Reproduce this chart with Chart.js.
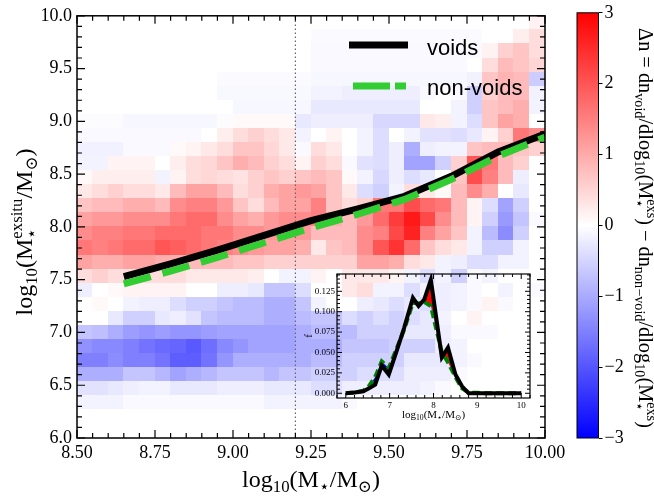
<!DOCTYPE html>
<html>
<head>
<meta charset="utf-8">
<script src="https://cdn.jsdelivr.net/npm/chart.js@4.4.1/dist/chart.umd.min.js"></script>
<style>
  html, body { margin: 0; padding: 0; background: #fff; }
  #wrap { position: relative; width: 654px; height: 498px; overflow: hidden; }
  canvas { position: absolute; }
</style>
</head>
<body>
<div id="wrap">
  <canvas id="main" width="654" height="498" style="left:0;top:0"></canvas>
  <canvas id="cbar" width="94" height="498" style="left:560px;top:0"></canvas>
  <canvas id="inset" width="250" height="160" style="left:290px;top:265px"></canvas>
</div>
<script>
/* void vs non-void ex-situ mass heatmap */

// main panel lines
const voidMass = [8.65, 8.8, 8.95, 9.1, 9.25, 9.4, 9.55, 9.7, 9.85, 10.0];
const voidExsitu = [7.53, 7.65, 7.78, 7.92, 8.06, 8.17, 8.29, 8.48, 8.71, 8.88];
const nonVoidMass = [8.65, 8.8, 8.95, 9.1, 9.25, 9.4, 9.55, 9.7, 9.85, 10.0];
const nonVoidExsitu = [7.46, 7.58, 7.71, 7.85, 7.99, 8.12, 8.26, 8.45, 8.67, 8.85];
const splitMass = 9.2;

// heatmap bins (30 x 30), rows listed from top (log Mexsitu = 10) to bottom (6)
const xBinCount = 30, xBinMin = 8.5, xBinMax = 10.0;
const yBinCount = 30, yBinMin = 6.0, yBinMax = 10.0;
const deltaGrid = [
  [0,0,0,0,0,0,0,0,0,0,0,0,0,0,0,0,0,0,0,0,0,0,0,0,0,0,0,0,0,0.15],
  [0,0,0,0,0,0,0,0,0,0,0,0,0,0,0,-0.05,-0.05,-0.05,-0.05,-0.05,-0.05,-0.05,-0.05,-0.05,-0.05,-0.05,0,0,0.2,0.4],
  [0,0,0,0,0,0,0,0,0,0,0,0,0,0,0,-0.07,-0.07,-0.07,-0.07,-0.07,-0.07,-0.07,-0.07,-0.07,-0.07,-0.07,0.15,0.55,0.7,0.4],
  [0,0,0,0,0,0,0,0,0,0,0,0,0,0,0,-0.07,-0.07,-0.07,-0.07,-0.07,-0.07,-0.07,-0.07,-0.07,-0.07,0,0.4,0.8,0.7,0.5],
  [0,0,0,0,0,0,0,0,0,-0.05,-0.05,-0.05,-0.05,-0.05,-0.05,-0.1,-0.1,-0.1,-0.1,-0.1,-0.1,-0.1,-0.1,-0.1,-0.1,-0.15,0.7,0.9,0.8,-0.6],
  [0,0,0,0,0,0,0,0,0,-0.08,-0.08,-0.08,-0.08,-0.08,-0.08,-0.14,-0.14,-0.2,-0.2,-0.2,-0.2,-0.2,-0.07,0,-0.07,-0.55,0.55,0.8,0.8,-0.15],
  [0,0,0,0,0,0,0,0,0,0,-0.1,-0.1,-0.1,-0.1,-0.1,-0.27,-0.27,-0.27,-0.27,-0.27,-0.27,-0.27,0,0,-0.14,-0.55,0.7,0.8,0.95,-0.14],
  [-0.04,-0.04,-0.04,-0.1,-0.1,-0.1,-0.1,-0.1,-0.1,-0.04,0.07,0.07,0.07,0.07,-0.27,-0.2,-0.2,-0.2,-0.2,-0.47,-0.47,-0.47,0.27,0.2,-0.14,-0.4,0.7,1.1,0.95,0],
  [-0.07,-0.07,-0.07,-0.07,-0.07,-0.07,-0.07,-0.07,0,0.2,0.4,0.55,0.4,0.27,-0.14,0,0.14,0,-0.14,-0.4,0,-0.14,-0.34,-0.34,-0.4,-0.27,0.14,0.55,1.6,1.35],
  [-0.16,-0.16,-0.16,-0.07,-0.07,-0.07,0.07,0.14,0.27,0.4,0.7,0.7,0.47,0.27,-0.07,0.4,0.27,0,-0.14,-0.4,-0.2,-0.95,-0.2,-0.14,-0.14,0.7,0.8,0.8,0.7,0.55],
  [-0.14,-0.14,0.14,0.14,0.14,0,0.2,0.4,0.47,0.7,0.95,0.8,0.55,0.4,0.14,0.55,0.4,-0.07,-0.34,-0.4,-0.2,-1.1,-1.1,-0.55,0.55,2.0,1.6,0.8,0.55,0],
  [0.07,0.2,0.2,0.2,0.2,-0.14,0.14,0.4,0.47,0.4,0.34,0.55,0.7,0.55,0.7,0.8,0.7,0.07,-0.14,-0.47,-0.2,-0.4,-0.27,0,0.7,2.1,1.5,0.8,-0.2,0],
  [0.27,0.4,0.55,0.4,0.4,0.27,0.8,1.1,1.1,0.8,0.4,0.55,0.95,1.1,1.2,1.1,0.7,0.27,-0.4,-0.55,-0.14,0.4,0.27,0.07,0.8,1.35,0.95,0,-0.27,0],
  [0.7,0.8,0.8,0.95,0.95,0.8,1.35,1.5,1.5,1.2,0.7,0.4,0.8,1.1,1.1,1.5,0.7,0.4,0.55,1.6,1.6,2.1,1.75,1.6,0.8,0.14,-0.4,-1.1,-0.55,0],
  [1.1,1.2,1.2,1.35,1.35,1.35,1.6,1.75,1.75,1.35,1.1,0.95,1.2,1.35,1.35,1.5,0.95,0.8,1.2,1.75,2.3,2.7,2.15,1.35,0.8,0.14,-0.55,-1.2,-0.7,-0.07],
  [1.35,1.5,1.5,1.6,1.6,1.75,1.75,1.75,1.6,1.6,1.35,1.35,1.2,1.1,1.2,0.8,0.8,0.8,1.35,1.5,2.15,2.6,1.5,1.1,0.7,-0.14,-0.8,-1.35,-0.55,0],
  [1.6,1.5,1.6,1.75,1.75,2.0,1.9,1.75,1.6,1.5,1.35,1.2,1.1,1.1,0.95,0.27,0.7,0.8,1.35,2.0,2.4,1.75,0.7,0.4,0.27,-0.14,-0.55,-0.55,-0.14,0],
  [1.1,0.95,0.95,1.1,1.1,0.95,0.95,0.8,0.8,0.8,0.7,0.7,0.55,0.55,0.55,0.55,0.55,0.55,1.1,1.1,0.95,0.4,0.27,-0.14,-0.2,-0.4,-0.4,-0.14,-0.14,0],
  [0.4,0.55,0.4,0.4,0.4,0.4,0.4,0.27,0.27,0.27,0.27,0.2,0,-0.14,-0.14,0.14,0,0.27,0.27,0.27,0.14,-0.14,-0.4,-0.14,-0.55,-0.07,-0.14,0,0,0],
  [-0.2,0,0.07,0.14,0.14,0.14,0.14,0,0,-0.2,-0.2,-0.27,-0.7,-0.7,-0.4,0,0,0.27,0.4,-0.14,-0.14,-0.4,-0.14,-0.2,-0.14,-0.07,0,-0.14,0,-0.07],
  [0,0.07,0,-0.14,-0.2,-0.2,-0.4,-0.55,-0.55,-0.7,-0.8,-0.8,-0.95,-0.95,-0.7,-0.14,0,0,-0.2,-0.27,-0.4,-0.27,-0.4,-0.2,-0.14,-0.07,0.14,-0.07,0,0],
  [0,0,-0.27,-0.55,-0.55,-0.27,-0.2,-0.34,-0.7,-0.8,-0.8,-0.8,-0.95,-0.95,-0.8,-0.7,-0.7,-0.4,-0.55,-0.4,-0.55,-0.4,-0.27,-0.14,0,0.14,0,0,0,0],
  [-0.7,-0.75,-0.95,-1.15,-1.25,-1.15,-1.25,-1.25,-1.15,-1.1,-1.1,-1.1,-1.1,-1.1,-0.95,-0.8,-0.8,-0.8,-0.55,-0.55,-0.55,-0.27,-0.27,-0.2,-0.07,-0.07,-0.07,0,0,0],
  [-1.3,-1.4,-1.4,-1.5,-1.65,-1.75,-1.8,-1.95,-1.7,-1.4,-1.25,-1.1,-1.1,-1.1,-0.95,-0.95,-0.95,-0.7,-0.7,-0.7,-0.55,-0.55,-0.55,-0.2,-0.14,0,0,0,0,0],
  [-1.5,-1.5,-1.35,-1.5,-1.5,-1.65,-1.9,-1.9,-1.65,-1.25,-0.95,-0.95,-0.95,-0.95,-0.95,-0.8,-0.8,-0.55,-0.55,-0.55,-0.55,-0.27,-0.27,-0.27,-0.14,-0.07,0,0,0,0],
  [-0.95,-0.95,-0.95,-0.7,-0.7,-0.85,-1.1,-0.95,-0.85,-0.7,-0.7,-0.7,-0.85,-0.7,-0.7,-0.55,-0.55,-0.55,-0.4,-0.4,-0.4,-0.2,-0.2,-0.2,-0.07,0,0,0,0,0],
  [-0.34,-0.34,-0.27,-0.2,-0.14,-0.14,-0.27,-0.27,-0.27,-0.2,-0.2,-0.2,-0.27,-0.27,-0.27,-0.4,-0.4,-0.2,-0.2,-0.2,-0.2,-0.2,-0.14,-0.07,0,0,0,0,0,0],
  [-0.14,-0.14,-0.14,-0.07,-0.07,-0.07,-0.07,-0.07,-0.07,-0.07,-0.07,-0.07,-0.14,-0.14,-0.14,-0.14,-0.14,-0.07,0,0,0,0,0,0,0,0,0,0,0,0],
  [0,0,0,0,0,0,0,0,0,0,0,0,0,0,0,0,0,0,0,0,0,0,0,0,0,0,0,0,0,0],
  [0,0,0,0,0,0,0,0,0,0,0,0,0,0,0,0,0,0,0,0,0,0,0,0,0,0,0,0,0,0]
];
const colorLimit = 3;

// inset: distribution of ex-situ mass
const insetMass = [6.0, 6.2, 6.4, 6.53, 6.67, 6.82, 6.98, 7.17, 7.33, 7.53, 7.66, 7.79, 7.94, 8.19, 8.33, 8.5, 8.65, 8.8, 9.0, 9.2, 9.4, 9.6, 9.8, 10.0];
const insetVoid = [0, 0.001, 0.0025, 0.006, 0.0106, 0.034, 0.023, 0.0535, 0.08, 0.117, 0.107, 0.115, 0.139, 0.044, 0.056, 0.023, 0.0086, 0, 0, 0, 0, 0, 0, 0];
const insetNonVoid = [0, 0.001, 0.003, 0.009, 0.02, 0.039, 0.031, 0.056, 0.078, 0.111, 0.11, 0.112, 0.107, 0.05, 0.038, 0.02, 0.006, 0.001, 0.0005, 0, 0, 0, 0, 0];
const insetMassTicks = [6, 7, 8, 9, 10];
const insetFracTicks = [0, 0.025, 0.05, 0.075, 0.1, 0.125];

const SERIF = '"Liberation Serif", "DejaVu Serif", serif';
const SANS = '"Liberation Sans", Arial, sans-serif';

const bwr = (v) => {
  const t = Math.max(-1, Math.min(1, v / colorLimit));
  if (t >= 0) {
    const g = Math.round(255 * (1 - t));
    return `rgb(255,${g},${g})`;
  }
  const g = Math.round(255 * (1 + t));
  return `rgb(${g},${g},255)`;
};

// text with sub/superscripts: {t} normal, {b, p} subscript / superscript
const measureRich = (ctx, parts, size) => {
  let w = 0;
  parts.forEach((p) => {
    if (p.t !== undefined) {
      ctx.font = `${size}px ${SERIF}`;
      w += ctx.measureText(p.t).width;
    } else {
      ctx.font = `${size * 0.7}px ${SERIF}`;
      w += Math.max(p.b ? ctx.measureText(p.b).width : 0, p.p ? ctx.measureText(p.p).width : 0);
    }
  });
  return w;
};

const drawRich = (ctx, parts, x, y, size, angle) => {
  const w = measureRich(ctx, parts, size);
  ctx.save();
  ctx.translate(x, y);
  ctx.rotate(angle);
  ctx.fillStyle = "#000";
  ctx.textAlign = "left";
  ctx.textBaseline = "alphabetic";
  let cx = -w / 2;
  parts.forEach((p) => {
    if (p.t !== undefined) {
      ctx.font = `${size}px ${SERIF}`;
      ctx.fillText(p.t, cx, 0);
      cx += ctx.measureText(p.t).width;
    } else {
      ctx.font = `${size * 0.7}px ${SERIF}`;
      let ww = 0;
      if (p.b) {
        ctx.fillText(p.b, cx, size * 0.22);
        ww = ctx.measureText(p.b).width;
      }
      if (p.p) {
        ctx.fillText(p.p, cx, -size * 0.4);
        ww = Math.max(ww, ctx.measureText(p.p).width);
      }
      cx += ww;
    }
  });
  ctx.restore();
};

const massLabel = [{ t: "log" }, { b: "10" }, { t: "(M" }, { b: "⋆" }, { t: "/M" }, { b: "⊙" }, { t: ")" }];
const exsituLabel = [{ t: "log" }, { b: "10" }, { t: "(M" }, { b: "⋆", p: "exsitu" }, { t: "/M" }, { b: "⊙" }, { t: ")" }];
const deltaLabel = [
  { t: "Δn = dn" }, { b: "void" }, { t: "/dlog" }, { b: "10" }, { t: "(M" }, { b: "⋆", p: "exs" },
  { t: ") − dn" }, { b: "non−void" }, { t: "/dlog" }, { b: "10" }, { t: "(M" }, { b: "⋆", p: "exs" }, { t: ")" }
];

// inward ticks on all four sides plus the frame
const frameTicks = (o) => ({
  id: "frameTicks",
  afterDraw(chart) {
    const { ctx, chartArea: a } = chart;
    const xs = chart.scales.x, ys = chart.scales.y;
    ctx.save();
    ctx.strokeStyle = "#000";
    ctx.lineWidth = o.tickWidth;
    ctx.beginPath();
    const nx = Math.round((o.xTo - o.xFrom) / o.xMinor);
    for (let k = 0; k <= nx; k++) {
      const v = o.xFrom + k * o.xMinor;
      const major = Math.abs(v / o.xMajor - Math.round(v / o.xMajor)) < 1e-6;
      const len = major ? o.major : o.minor;
      const p = xs.getPixelForValue(v);
      ctx.moveTo(p, a.bottom); ctx.lineTo(p, a.bottom - len);
      ctx.moveTo(p, a.top); ctx.lineTo(p, a.top + len);
    }
    const ny = Math.round((o.yTo - o.yFrom) / o.yMinor);
    for (let k = 0; k <= ny; k++) {
      const v = o.yFrom + k * o.yMinor;
      const major = Math.abs(v / o.yMajor - Math.round(v / o.yMajor)) < 1e-6;
      const len = major ? o.major : o.minor;
      const p = ys.getPixelForValue(v);
      ctx.moveTo(a.left, p); ctx.lineTo(a.left + len, p);
      ctx.moveTo(a.right, p); ctx.lineTo(a.right - len, p);
    }
    ctx.stroke();
    ctx.lineWidth = o.frameWidth;
    ctx.strokeRect(a.left, a.top, a.width, a.height);
    ctx.restore();
  },
});

const heatmapPlugin = {
  id: "heatmap",
  beforeDatasetsDraw(chart) {
    const { ctx, chartArea: a } = chart;
    const xs = chart.scales.x, ys = chart.scales.y;
    const dx = (xBinMax - xBinMin) / xBinCount;
    const dy = (yBinMax - yBinMin) / yBinCount;
    ctx.save();
    ctx.beginPath();
    ctx.rect(a.left, a.top, a.width, a.height);
    ctx.clip();
    deltaGrid.forEach((row, r) => {
      const yHi = yBinMax - r * dy, yLo = yHi - dy;
      const y0 = Math.floor(ys.getPixelForValue(yHi));
      const y1 = Math.ceil(ys.getPixelForValue(yLo));
      row.forEach((v, c) => {
        const x0 = Math.floor(xs.getPixelForValue(xBinMin + c * dx));
        const x1 = Math.ceil(xs.getPixelForValue(xBinMin + (c + 1) * dx));
        ctx.fillStyle = bwr(v);
        ctx.fillRect(x0, y0, x1 - x0, y1 - y0);
      });
    });
    ctx.restore();
  },
};

const legendPlugin = {
  id: "mainLegend",
  afterDatasetsDraw(chart) {
    const { ctx } = chart;
    ctx.save();
    ctx.lineWidth = 7;
    ctx.lineCap = "butt";
    ctx.strokeStyle = "#000";
    ctx.beginPath(); ctx.moveTo(349, 45); ctx.lineTo(408, 45); ctx.stroke();
    ctx.strokeStyle = "#32cd32";
    ctx.setLineDash([37, 5]);
    ctx.beginPath(); ctx.moveTo(353, 86); ctx.lineTo(406, 86); ctx.stroke();
    ctx.setLineDash([]);
    ctx.fillStyle = "#000";
    ctx.font = `22px ${SANS}`;
    ctx.textBaseline = "alphabetic";
    ctx.fillText("voids", 427, 55);
    ctx.fillText("non-voids", 427, 95);
    ctx.restore();
  },
};

const mainTitles = {
  id: "mainTitles",
  afterDraw(chart) {
    const { ctx, chartArea: a } = chart;
    drawRich(ctx, massLabel, (a.left + a.right) / 2, 487, 24, 0);
    drawRich(ctx, exsituLabel, 32, 232, 24, -Math.PI / 2);
  },
};

const toPoints = (xs, ys) => xs.map((x, i) => ({ x, y: ys[i] }));

new Chart(document.getElementById("main"), {
  type: "scatter",
  data: {
    datasets: [
      {
        label: "non-voids",
        data: toPoints(nonVoidMass, nonVoidExsitu),
        showLine: true,
        borderColor: "#32cd32",
        borderWidth: 7,
        borderDash: [28, 12],
        pointRadius: 0,
        order: 0,
      },
      {
        label: "voids",
        data: toPoints(voidMass, voidExsitu),
        showLine: true,
        borderColor: "#000",
        borderWidth: 7,
        pointRadius: 0,
        order: 1,
      },
      {
        label: "split",
        data: [{ x: splitMass, y: yBinMin }, { x: splitMass, y: yBinMax }],
        showLine: true,
        borderColor: "#666",
        borderWidth: 1.2,
        borderDash: [1.5, 2.5],
        pointRadius: 0,
        order: 2,
      },
    ],
  },
  options: {
    responsive: false,
    animation: false,
    devicePixelRatio: 1,
    layout: { padding: { left: 0, top: 13, right: 109, bottom: 0 } },
    plugins: { legend: { display: false }, tooltip: { enabled: false } },
    scales: {
      x: {
        type: "linear",
        min: 8.5,
        max: 10,
        afterFit: (s) => { s.height = 60; },
        grid: { display: false, drawTicks: false },
        border: { display: false },
        ticks: {
          stepSize: 0.25,
          autoSkip: false,
          maxRotation: 0,
          padding: 4,
          color: "#000",
          font: { family: SERIF, size: 18 },
          callback: (v) => v.toFixed(2),
        },
      },
      y: {
        type: "linear",
        min: 6,
        max: 10,
        afterFit: (s) => { s.width = 77; },
        grid: { display: false, drawTicks: false },
        border: { display: false },
        ticks: {
          stepSize: 0.5,
          padding: 5,
          color: "#000",
          font: { family: SERIF, size: 18 },
          callback: (v) => v.toFixed(1),
        },
      },
    },
  },
  plugins: [
    heatmapPlugin,
    legendPlugin,
    frameTicks({ xFrom: 8.5, xTo: 10, xMinor: 0.05, xMajor: 0.25, yFrom: 6, yTo: 10, yMinor: 0.1, yMajor: 0.5, major: 8, minor: 5, tickWidth: 1.2, frameWidth: 1.5 }),
    mainTitles,
  ],
});

// colour bar
const cbarPlugin = {
  id: "cbar",
  beforeDatasetsDraw(chart) {
    const { ctx, chartArea: a } = chart;
    const ys = chart.scales.y;
    const g = ctx.createLinearGradient(0, ys.getPixelForValue(-colorLimit), 0, ys.getPixelForValue(colorLimit));
    g.addColorStop(0, "rgb(0,0,255)");
    g.addColorStop(0.5, "rgb(255,255,255)");
    g.addColorStop(1, "rgb(255,0,0)");
    ctx.fillStyle = g;
    ctx.fillRect(a.left, a.top, a.width, a.height);
  },
  afterDraw(chart) {
    const { ctx, chartArea: a } = chart;
    ctx.save();
    ctx.strokeStyle = "#000";
    ctx.lineWidth = 1;
    ctx.strokeRect(a.left, a.top, a.width, a.height);
    ctx.restore();
    const base = measureRich(ctx, deltaLabel, 18);
    const size = 18 * 400 / base;
    drawRich(ctx, deltaLabel, 79, 228, size, Math.PI / 2);
  },
};

new Chart(document.getElementById("cbar"), {
  type: "scatter",
  data: { datasets: [] },
  options: {
    responsive: false,
    animation: false,
    devicePixelRatio: 1,
    layout: { padding: { left: 17, top: 12, right: 0, bottom: 60 } },
    plugins: { legend: { display: false }, tooltip: { enabled: false } },
    scales: {
      x: { display: false, min: 0, max: 1 },
      y: {
        position: "right",
        min: -colorLimit,
        max: colorLimit,
        afterFit: (s) => { s.width = 55.5; },
        grid: { display: true, drawOnChartArea: false, drawTicks: true, tickLength: 4, color: "#000", lineWidth: 1 },
        border: { display: false },
        ticks: {
          stepSize: 1,
          padding: 2,
          color: "#000",
          font: { family: SERIF, size: 18 },
          callback: (v) => (v < 0 ? "−" + Math.abs(v) : String(v)),
        },
      },
    },
  },
  plugins: [cbarPlugin],
});

// inset
const insetTitles = {
  id: "insetTitles",
  afterDraw(chart) {
    const { ctx, chartArea: a } = chart;
    drawRich(ctx, massLabel, (a.left + a.right) / 2, 153, 11, 0);
    drawRich(ctx, [{ t: "f" }], 22, (a.top + a.bottom) / 2, 11, -Math.PI / 2);
  },
};

new Chart(document.getElementById("inset"), {
  type: "scatter",
  data: {
    datasets: [
      {
        label: "voids",
        data: toPoints(insetMass, insetVoid),
        showLine: true,
        borderColor: "#000",
        borderWidth: 4,
        pointRadius: 0,
        fill: { target: 1, above: "#ff0000", below: "#0000ff" },
        order: 0,
      },
      {
        label: "non-voids",
        data: toPoints(insetMass, insetNonVoid),
        showLine: true,
        borderColor: "#008000",
        borderWidth: 4,
        borderDash: [8, 4],
        pointRadius: 0,
        fill: false,
        order: 1,
      },
    ],
  },
  options: {
    responsive: false,
    animation: false,
    devicePixelRatio: 1,
    layout: { padding: { left: 0, top: 9, right: 10, bottom: 0 } },
    plugins: { legend: { display: false }, tooltip: { enabled: false }, filler: { drawTime: "beforeDatasetsDraw" } },
    scales: {
      x: {
        type: "linear",
        min: 5.8,
        max: 10.2,
        afterBuildTicks: (s) => { s.ticks = insetMassTicks.map((value) => ({ value })); },
        afterFit: (s) => { s.height = 27; },
        grid: { display: false, drawTicks: false },
        border: { display: false },
        ticks: {
          autoSkip: false,
          maxRotation: 0,
          padding: 2,
          color: "#000",
          font: { family: SERIF, size: 9 },
          callback: (v) => String(v),
        },
      },
      y: {
        type: "linear",
        min: -0.0058,
        max: 0.1462,
        afterBuildTicks: (s) => { s.ticks = insetFracTicks.map((value) => ({ value })); },
        afterFit: (s) => { s.width = 47; },
        grid: { display: false, drawTicks: false },
        border: { display: false },
        ticks: {
          autoSkip: false,
          padding: 2,
          color: "#000",
          font: { family: SERIF, size: 9 },
          callback: (v) => v.toFixed(3),
        },
      },
    },
  },
  plugins: [
    frameTicks({ xFrom: 5.8, xTo: 10.2, xMinor: 0.2, xMajor: 1, yFrom: 0, yTo: 0.145, yMinor: 0.005, yMajor: 0.025, major: 5, minor: 3, tickWidth: 1, frameWidth: 1.2 }),
    insetTitles,
  ],
});
</script>
</body>
</html>
